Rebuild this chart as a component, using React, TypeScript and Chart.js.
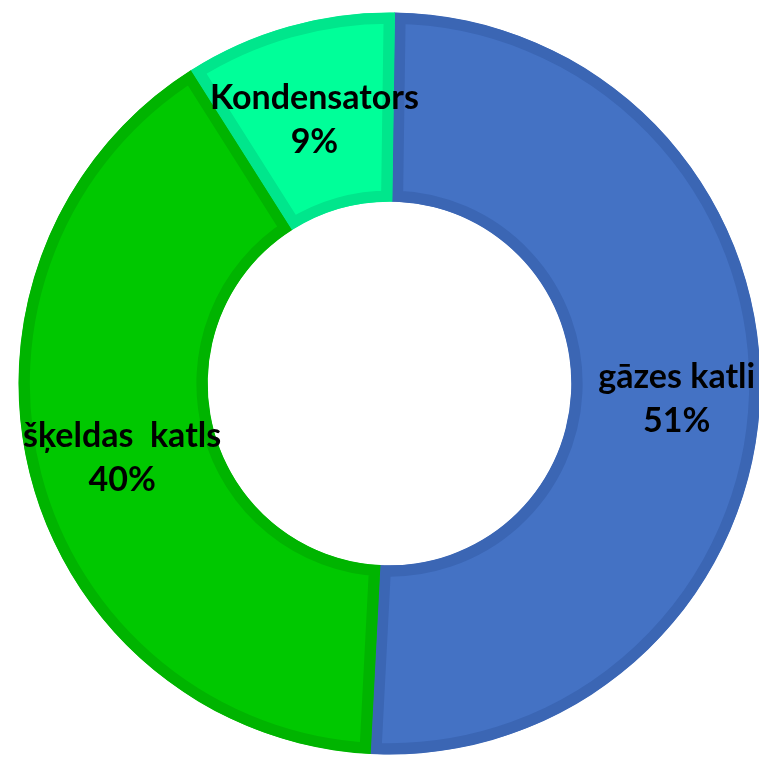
import React, { useEffect, useRef } from "react";
import { Chart, registerables } from "chart.js";

Chart.register(...registerables);

const categories = ["gāzes katli", "šķeldas  katls", "Kondensators"];
const values = [50.6, 40.2, 9.2];
const percentLabels = ["51%", "40%", "9%"];
const fillColors = ["#4472C4", "#00C800", "#00FF99"];
const borderColors = ["#3B66B4", "#00B400", "#00E68C"];

const labelPlugin = {
  id: "segmentLabels",
  afterDatasetsDraw(chart: any) {
    const ctx = chart.ctx;
    const meta = chart.getDatasetMeta(0);
    const nudgeX = [11, 0, 0];
    const nudgeY = [6, 4, 3];
    ctx.save();
    ctx.fillStyle = "#000000";
    ctx.font = "bold 34px Lato";
    ctx.textAlign = "center";
    ctx.textBaseline = "middle";
    meta.data.forEach((arc: any, i: number) => {
      const p = arc.tooltipPosition();
      const x = p.x + nudgeX[i];
      const y = p.y + nudgeY[i];
      ctx.fillText(categories[i], x, y - 22);
      ctx.fillText(percentLabels[i], x, y + 22);
    });
    ctx.restore();
  },
};

export default function App() {
  const ref = useRef<HTMLCanvasElement | null>(null);
  useEffect(() => {
    if (!ref.current) return;
    const chart = new Chart(ref.current, {
      type: "doughnut",
      data: {
        labels: categories,
        datasets: [
          {
            data: values,
            backgroundColor: fillColors,
            borderColor: borderColors,
            borderWidth: 11,
            borderAlign: "inner",
            borderJoinStyle: "miter",
          } as any,
        ],
      },
      options: {
        responsive: false,
        animation: false,
        cutout: "49%",
        radius: 371,
        rotation: 0.8,
        layout: { padding: { left: 20, right: 0, top: 8, bottom: 0 } },
        plugins: {
          legend: { display: false },
          tooltip: { enabled: false },
        },
      },
      plugins: [labelPlugin],
    });
    return () => chart.destroy();
  }, []);
  return (
    <div style={{ position: "absolute", left: 0, top: 0, width: 759, height: 759, background: "#ffffff" }}>
      <canvas ref={ref} width={759} height={759} style={{ width: 759, height: 759 }} />
    </div>
  );
}
